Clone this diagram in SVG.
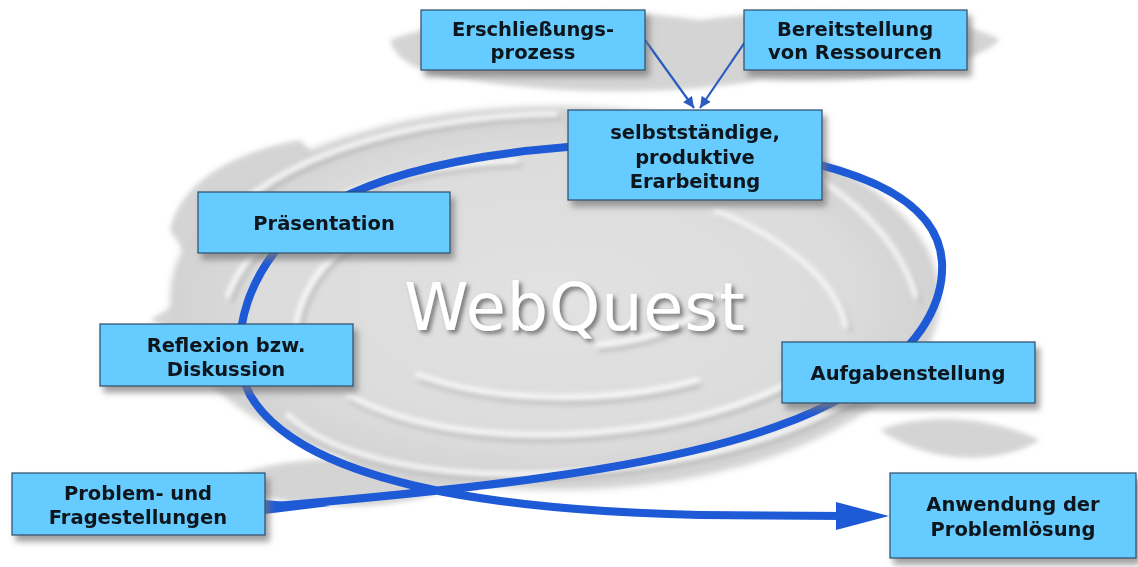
<svg xmlns="http://www.w3.org/2000/svg" width="1138" height="567" viewBox="0 0 1138 567">
<defs>
<style>
.box{fill:#66ccff;stroke:#2a4a6a;stroke-width:1.2}
.lbl{font-family:"DejaVu Sans",Verdana,sans-serif;font-weight:bold;font-size:19.5px;fill:#0d141a;text-anchor:middle}
.ridgeW{fill:none;stroke:#ffffff;stroke-width:5;stroke-linecap:round;opacity:0.9}
.ridgeG{fill:none;stroke:#a8a8a8;stroke-width:4;stroke-linecap:round;opacity:0.7}
.flow{fill:none;stroke:#1f5ad6;stroke-width:8;stroke-linecap:butt}
.thin{fill:none;stroke:#2a5cc0;stroke-width:2.2}
</style>
<radialGradient id="disc" cx="0.5" cy="0.5" r="0.5">
<stop offset="0" stop-color="#e2e2e2"/>
<stop offset="0.75" stop-color="#dcdcdc"/>
<stop offset="1" stop-color="#d2d2d2"/>
</radialGradient>
<filter id="shadow" x="-10%" y="-10%" width="130%" height="150%">
<feDropShadow dx="4" dy="6" stdDeviation="3" flood-color="#777" flood-opacity="0.7"/>
</filter>
<filter id="blur" x="-20%" y="-20%" width="140%" height="140%">
<feGaussianBlur stdDeviation="2.5"/>
</filter>
<filter id="soft" x="-5%" y="-5%" width="110%" height="110%">
<feGaussianBlur stdDeviation="3"/>
</filter>
<filter id="tshadow" x="-10%" y="-30%" width="120%" height="160%">
<feDropShadow dx="3" dy="3" stdDeviation="2" flood-color="#6a6a6a" flood-opacity="0.9"/>
</filter>
<marker id="ah" viewBox="0 0 10 10" refX="10" refY="5" markerWidth="12" markerHeight="11" orient="auto" markerUnits="userSpaceOnUse">
<path d="M0,0 L10,5 L0,10 z" fill="#2a5cc0"/>
</marker>
</defs>
<rect width="1138" height="567" fill="#ffffff"/>

<g id="background">
<g filter="url(#blur)" fill="#d4d4d4">
<path d="M390 40 C470 10 600 5 700 20 C800 5 950 10 1000 40 C960 75 850 85 760 80 C680 95 560 95 470 80 C420 75 395 60 390 40 z"/>
<path d="M170 230 C180 180 240 150 300 140 L330 170 C260 200 220 250 215 300 Z"/>
<path d="M150 320 L200 290 L215 340 L175 330 Z"/>
<path d="M220 480 C300 450 380 455 470 480 C420 510 300 520 220 480 Z"/>
<path d="M880 430 C930 410 1000 420 1040 440 C1000 465 930 465 880 430 Z"/>
</g>
<ellipse cx="555" cy="298" rx="385" ry="192" fill="url(#disc)" filter="url(#soft)"/>
<g filter="url(#blur)">
<path class="ridgeG" d="M210 250 C260 160 420 120 560 118"/>
<path class="ridgeW" d="M206 246 C256 156 416 116 556 114"/>
<path class="ridgeG" d="M232 300 C260 220 380 170 520 165"/>
<path class="ridgeW" d="M228 296 C256 216 376 166 516 161"/>
<path class="ridgeG" d="M290 420 C330 460 430 485 560 478 C700 470 800 440 860 400"/>
<path class="ridgeW" d="M288 415 C328 455 428 480 558 473 C698 465 798 435 858 395"/>
<path class="ridgeG" d="M350 400 C420 440 540 450 660 430 C740 415 800 390 830 360"/>
<path class="ridgeW" d="M348 395 C418 435 538 445 658 425 C738 410 798 385 828 355"/>
<path class="ridgeG" d="M420 380 C500 410 620 408 700 385"/>
<path class="ridgeW" d="M418 375 C498 405 618 403 698 380"/>
<path class="ridgeG" d="M760 150 C830 180 900 230 920 300"/>
<path class="ridgeW" d="M756 146 C826 176 896 226 916 296"/>
<path class="ridgeG" d="M720 215 C780 240 840 280 850 330"/>
<path class="ridgeW" d="M716 211 C776 236 836 276 846 326"/>
<path class="ridgeG" d="M300 330 C310 270 360 230 440 210"/>
<path class="ridgeW" d="M296 326 C306 266 356 226 436 206"/>
<path class="ridgeG" d="M600 350 C660 345 700 325 720 300"/>
<path class="ridgeW" d="M598 345 C658 340 698 320 718 295"/>
</g>
<text x="575" y="330" font-family="DejaVu Sans,sans-serif" font-size="65" letter-spacing="1" text-anchor="middle" fill="#ffffff" filter="url(#tshadow)">WebQuest</text>
</g>

<g id="connectors">
<path class="flow" d="M265 507 C440 492 650 472 775 427 C890 387 945 322 942 262 C938 200 860 160 700 146 C560 138 400 160 320 210 C245 260 225 345 250 395 C300 480 480 510 700 515 L842 516"/>
<path d="M265 500 L265 514 L330 506 Z" fill="#1f5ad6"/>
<path d="M889 516 L836 502 L836 530 Z" fill="#1f5ad6"/>
<path class="thin" d="M645 40 L694 108" marker-end="url(#ah)"/>
<path class="thin" d="M745 42 L700 108" marker-end="url(#ah)"/>
</g>

<g id="n-erschliessung" filter="url(#shadow)">
<rect class="box" x="421" y="10" width="224" height="60"/>
<text class="lbl" x="533" y="36">Erschließungs-</text>
<text class="lbl" x="533" y="59">prozess</text>
</g>
<g id="n-bereitstellung" filter="url(#shadow)">
<rect class="box" x="744" y="10" width="223" height="60"/>
<text class="lbl" x="855" y="36">Bereitstellung</text>
<text class="lbl" x="855" y="59">von Ressourcen</text>
</g>
<g id="n-erarbeitung" filter="url(#shadow)">
<rect class="box" x="568" y="110" width="254" height="90"/>
<text class="lbl" x="695" y="139">selbstständige,</text>
<text class="lbl" x="695" y="164">produktive</text>
<text class="lbl" x="695" y="188">Erarbeitung</text>
</g>
<g id="n-praesentation" filter="url(#shadow)">
<rect class="box" x="198" y="192" width="252" height="61"/>
<text class="lbl" x="324" y="230">Präsentation</text>
</g>
<g id="n-reflexion" filter="url(#shadow)">
<rect class="box" x="100" y="324" width="253" height="62"/>
<text class="lbl" x="226" y="352">Reflexion bzw.</text>
<text class="lbl" x="226" y="376">Diskussion</text>
</g>
<g id="n-aufgabenstellung" filter="url(#shadow)">
<rect class="box" x="782" y="342" width="253" height="61"/>
<text class="lbl" x="908" y="380">Aufgabenstellung</text>
</g>
<g id="n-problem" filter="url(#shadow)">
<rect class="box" x="12" y="473" width="253" height="62"/>
<text class="lbl" x="138" y="500">Problem- und</text>
<text class="lbl" x="138" y="524">Fragestellungen</text>
</g>
<g id="n-anwendung" filter="url(#shadow)">
<rect class="box" x="890" y="473" width="246" height="85"/>
<text class="lbl" x="1013" y="511">Anwendung der</text>
<text class="lbl" x="1013" y="536">Problemlösung</text>
</g>
</svg>
